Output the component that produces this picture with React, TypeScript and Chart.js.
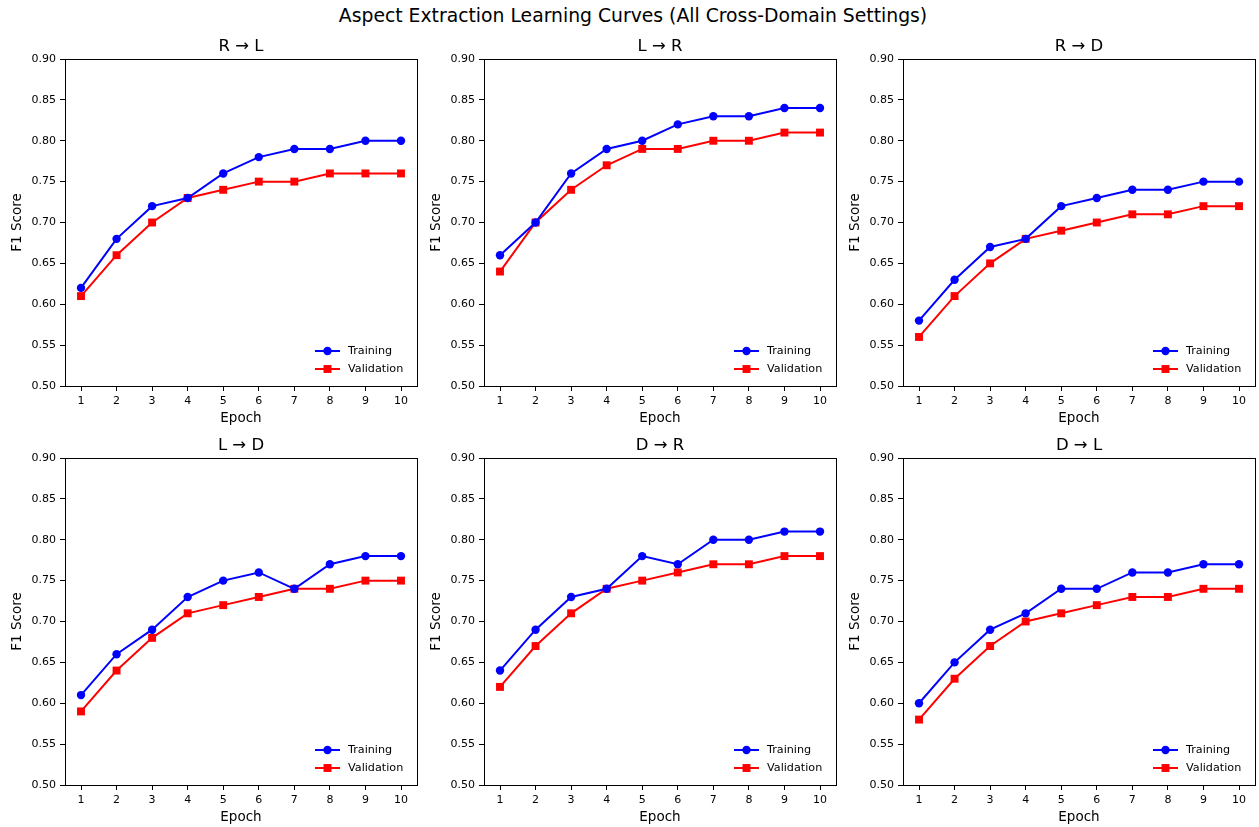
import React, { useEffect, useRef } from "react";
import { Chart, registerables } from "chart.js";

Chart.register(...registerables);

const SUPTITLE = "Aspect Extraction Learning Curves (All Cross-Domain Settings)";
const EPOCHS = [1, 2, 3, 4, 5, 6, 7, 8, 9, 10];
const Y_TICKS = [0.5, 0.55, 0.6, 0.65, 0.7, 0.75, 0.8, 0.85, 0.9];
const PANEL_TITLES = ["R → L", "L → R", "R → D", "L → D", "D → R", "D → L"];

const TRAIN_R_L = [0.62, 0.68, 0.72, 0.73, 0.76, 0.78, 0.79, 0.79, 0.8, 0.8];
const VAL_R_L = [0.61, 0.66, 0.7, 0.73, 0.74, 0.75, 0.75, 0.76, 0.76, 0.76];
const TRAIN_L_R = [0.66, 0.7, 0.76, 0.79, 0.8, 0.82, 0.83, 0.83, 0.84, 0.84];
const VAL_L_R = [0.64, 0.7, 0.74, 0.77, 0.79, 0.79, 0.8, 0.8, 0.81, 0.81];
const TRAIN_R_D = [0.58, 0.63, 0.67, 0.68, 0.72, 0.73, 0.74, 0.74, 0.75, 0.75];
const VAL_R_D = [0.56, 0.61, 0.65, 0.68, 0.69, 0.7, 0.71, 0.71, 0.72, 0.72];
const TRAIN_L_D = [0.61, 0.66, 0.69, 0.73, 0.75, 0.76, 0.74, 0.77, 0.78, 0.78];
const VAL_L_D = [0.59, 0.64, 0.68, 0.71, 0.72, 0.73, 0.74, 0.74, 0.75, 0.75];
const TRAIN_D_R = [0.64, 0.69, 0.73, 0.74, 0.78, 0.77, 0.8, 0.8, 0.81, 0.81];
const VAL_D_R = [0.62, 0.67, 0.71, 0.74, 0.75, 0.76, 0.77, 0.77, 0.78, 0.78];
const TRAIN_D_L = [0.6, 0.65, 0.69, 0.71, 0.74, 0.74, 0.76, 0.76, 0.77, 0.77];
const VAL_D_L = [0.58, 0.63, 0.67, 0.7, 0.71, 0.72, 0.73, 0.73, 0.74, 0.74];

const TRAIN_SERIES = [TRAIN_R_L, TRAIN_L_R, TRAIN_R_D, TRAIN_L_D, TRAIN_D_R, TRAIN_D_L];
const VAL_SERIES = [VAL_R_L, VAL_L_R, VAL_R_D, VAL_L_D, VAL_D_R, VAL_D_L];
const SERIES_NAMES = ["Training", "Validation"];

const FONT = "DejaVu Sans";
const CANVAS_W = 419;
const CANVAS_H = 398;
const COL_LEFT = [0, 419, 838];
const ROW_TOP = [30, 429];

const framePlugin = {
  id: "frame",
  afterDraw(chart: any) {
    const { ctx, chartArea } = chart;
    const { left, top, right, bottom } = chartArea;
    ctx.save();
    ctx.strokeStyle = "#000";
    ctx.lineWidth = 1;
    ctx.strokeRect(Math.round(left) + 0.5, Math.round(top) + 0.5, Math.round(right - left), Math.round(bottom - top));
    ctx.restore();
  },
};

const legendPlugin = {
  id: "innerLegend",
  afterDraw(chart: any) {
    const { ctx, chartArea } = chart;
    const x0 = chartArea.right - 102;
    const x1 = chartArea.right - 77;
    const tx = chartArea.right - 69;
    const rows = [chartArea.bottom - 35, chartArea.bottom - 17];
    ctx.save();
    chart.data.datasets.forEach((ds: any, i: number) => {
      const y = rows[i];
      ctx.strokeStyle = ds.borderColor;
      ctx.lineWidth = ds.borderWidth;
      ctx.beginPath();
      ctx.moveTo(x0, y);
      ctx.lineTo(x1, y);
      ctx.stroke();
      ctx.fillStyle = ds.backgroundColor;
      const cx = (x0 + x1) / 2;
      if (ds.pointStyle === "rect") {
        const s = ds.pointRadius * Math.SQRT1_2;
        ctx.fillRect(cx - s, y - s, 2 * s, 2 * s);
      } else {
        ctx.beginPath();
        ctx.arc(cx, y, ds.pointRadius, 0, Math.PI * 2);
        ctx.fill();
      }
      ctx.fillStyle = "#000";
      ctx.font = `11.2px '${FONT}'`;
      ctx.textAlign = "left";
      ctx.textBaseline = "middle";
      ctx.fillText(ds.label, tx, y);
    });
    ctx.restore();
  },
};

function Panel({ index }: { index: number }) {
  const ref = useRef<HTMLCanvasElement | null>(null);
  useEffect(() => {
    if (!ref.current) return;
    const toPts = (vals: number[]) => EPOCHS.map((e, i) => ({ x: e, y: vals[i] }));
    const chart = new Chart(ref.current, {
      type: "line",
      data: {
        datasets: [
          {
            label: SERIES_NAMES[0],
            data: toPts(TRAIN_SERIES[index]),
            borderColor: "#0000ff",
            backgroundColor: "#0000ff",
            borderWidth: 2,
            pointStyle: "circle",
            pointRadius: 4.2,
            pointBorderWidth: 0,
            tension: 0,
          },
          {
            label: SERIES_NAMES[1],
            data: toPts(VAL_SERIES[index]),
            borderColor: "#ff0000",
            backgroundColor: "#ff0000",
            borderWidth: 2,
            pointStyle: "rect",
            pointRadius: 5.6,
            pointBorderWidth: 0,
            tension: 0,
          },
        ],
      },
      options: {
        responsive: false,
        animation: false,
        events: [],
        layout: { autoPadding: false, padding: { left: 0, right: 2, top: 0, bottom: 0 } },
        plugins: {
          legend: { display: false },
          tooltip: { enabled: false },
          title: {
            display: true,
            fullSize: false,
            text: PANEL_TITLES[index],
            color: "#000",
            font: { family: FONT, size: 16.5, weight: "normal" },
            padding: { top: 7.1, bottom: 2.1 },
          },
        },
        scales: {
          x: {
            type: "linear",
            min: 0.55,
            max: 10.45,
            afterBuildTicks: (s: any) => {
              s.ticks = EPOCHS.map((v) => ({ value: v }));
            },
            afterFit: (s: any) => {
              s.height = 42;
              s.paddingLeft = 0;
              s.paddingRight = 0;
            },
            grid: { display: true, drawOnChartArea: false, drawTicks: true, tickLength: 5, tickColor: "#000" },
            border: { display: false },
            ticks: {
              color: "#000",
              font: { family: FONT, size: 11 },
              padding: 3.5,
              maxRotation: 0,
              autoSkip: false,
              callback: (v: any) => String(v),
            },
            title: {
              display: true,
              text: "Epoch",
              color: "#000",
              font: { family: FONT, size: 13.5 },
              padding: { top: 0, bottom: 1.9 },
            },
          },
          y: {
            type: "linear",
            min: 0.5,
            max: 0.9,
            afterBuildTicks: (s: any) => {
              s.ticks = Y_TICKS.map((v) => ({ value: v }));
            },
            afterFit: (s: any) => {
              s.width = 65;
              s.paddingTop = 0;
              s.paddingBottom = 0;
            },
            grid: { display: true, drawOnChartArea: false, drawTicks: true, tickLength: 5, tickColor: "#000" },
            border: { display: false },
            ticks: {
              color: "#000",
              font: { family: FONT, size: 11 },
              padding: 4,
              callback: (v: any) => Number(v).toFixed(2),
            },
            title: {
              display: true,
              text: "F1 Score",
              color: "#000",
              font: { family: FONT, size: 13.5 },
              padding: { top: 8.9, bottom: 0 },
            },
          },
        },
      },
      plugins: [framePlugin, legendPlugin],
    } as any);
    return () => chart.destroy();
  }, [index]);
  const col = index % 3;
  const row = Math.floor(index / 3);
  return (
    <canvas
      ref={ref}
      width={CANVAS_W}
      height={CANVAS_H}
      style={{ position: "absolute", left: COL_LEFT[col], top: ROW_TOP[row], width: CANVAS_W, height: CANVAS_H }}
    />
  );
}

export default function App() {
  return (
    <div style={{ position: "absolute", left: 0, top: 0, width: 1259, height: 827, background: "#fff", overflow: "hidden" }}>
      <div
        style={{
          position: "absolute",
          left: 633,
          top: 5,
          transform: "translateX(-50%)",
          whiteSpace: "nowrap",
          fontFamily: FONT,
          fontSize: 18.8,
          lineHeight: "22px",
          color: "#000",
        }}
      >
        {SUPTITLE}
      </div>
      {PANEL_TITLES.map((_, i) => (
        <Panel key={i} index={i} />
      ))}
    </div>
  );
}
